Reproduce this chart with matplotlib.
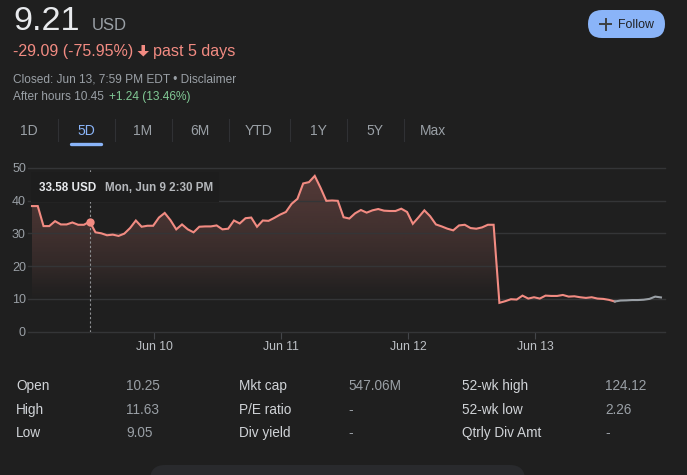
import numpy as np
import matplotlib
matplotlib.use("Agg")
import matplotlib.pyplot as plt
from matplotlib.patches import FancyBboxPatch, Rectangle, Polygon

plt.rcParams['font.family'] = ['Liberation Sans', 'DejaVu Sans']

# ---------- data ----------
market_prices = [38.3, 38.3, 32.2, 32.2, 33.7, 32.7, 32.7, 33.3, 32.6, 32.6, 33.58, 30.3, 30.0, 29.4, 29.6, 29.2,
                 29.9, 31.6, 33.9, 32.0, 32.3, 32.3, 34.8, 36.2, 34.0, 31.2, 32.7, 31.2, 30.3, 32.0, 32.1, 32.1,
                 32.4, 31.2, 31.4, 33.9, 33.0, 34.6, 34.8, 32.0, 33.9, 33.8, 34.7, 35.7, 36.5, 39.0, 40.5, 45.2,
                 45.6, 47.5, 43.9, 39.9, 40.0, 39.9, 34.9, 34.5, 36.1, 37.1, 36.3, 37.0, 37.4, 36.9, 36.8, 36.8,
                 37.5, 36.5, 32.9, 34.9, 37.0, 35.2, 32.7, 32.1, 31.4, 30.9, 32.4, 32.6, 31.6, 31.4, 31.8, 32.6,
                 32.6, 8.8, 9.3, 9.9, 9.8, 11.0, 10.1, 10.5, 10.1, 11.0, 10.9, 10.9, 11.2, 10.7, 10.8, 10.5,
                 10.3, 10.5, 10.1, 10.0, 9.7, 9.21]
after_hours_prices = [9.21, 9.5, 9.55, 9.65, 9.65, 9.75, 10.0, 10.7, 10.45]
y_ticks = [0, 10, 20, 30, 40, 50]
x_tick_labels = ["Jun 10", "Jun 11", "Jun 12", "Jun 13"]
x_tick_index = [21.2, 43.2, 65.2, 87.2]
hover_index = 10
hover_price = 33.58

periods = ["1D", "5D", "1M", "6M", "YTD", "1Y", "5Y", "Max"]
stats_col1 = [("Open", "10.25"), ("High", "11.63"), ("Low", "9.05")]
stats_col2 = [("Mkt cap", "547.06M"), ("P/E ratio", "-"), ("Div yield", "-")]
stats_col3 = [("52-wk high", "124.12"), ("52-wk low", "2.26"), ("Qtrly Div Amt", "-")]

# ---------- colours ----------
BG = "#1f1f1f"
RED = "#f28b82"
GREY = "#9aa0a6"
LIGHT = "#e8eaed"
BLUE = "#8ab4f8"
GREEN = "#81c995"
GRID = "#343537"

W, H = 687, 475
fig = plt.figure(figsize=(W / 100, H / 100), dpi=100, facecolor=BG)

# ---------- chart axes ----------
L, R, T, B = 28, 665, 167.7, 331.7
ax = fig.add_axes([L / W, 1 - B / H, (R - L) / W, (B - T) / H], facecolor=BG)
n_m = len(market_prices)
x_m = np.arange(n_m)
x_a = np.arange(n_m - 1, n_m - 1 + len(after_hours_prices))
xlim = (-0.69, 109.7)

# gradient fill below the price line
levels = np.linspace(0, 50, 200)
alpha = np.interp(levels, [0, 9, 14, 20, 30, 47, 50], [0, 0.0, 0.035, 0.095, 0.16, 0.25, 0.26])
rgba = np.zeros((200, 1, 4))
rgba[..., :3] = matplotlib.colors.to_rgb(RED)
rgba[..., 3] = alpha[:, None]
im = ax.imshow(rgba, origin='lower', extent=(x_m[0], x_m[-1], 0, 50), aspect='auto', zorder=1,
               interpolation='bilinear')
poly = Polygon(np.column_stack([np.r_[x_m[0], x_m, x_m[-1]], np.r_[0, market_prices, 0]]),
               transform=ax.transData, facecolor='none', edgecolor='none')
ax.add_patch(poly)
im.set_clip_path(poly)

ax.plot(x_m, market_prices, color=RED, lw=1.5, zorder=3, solid_joinstyle='miter')
ax.plot(x_a, after_hours_prices, color=GREY, lw=1.5, zorder=3)
ax.plot([hover_index, hover_index], [0, 50], color="#8f9194", lw=0.8, ls=(0, (2, 2)), zorder=2.6)
ax.plot([hover_index], [hover_price], 'o', color=RED, ms=6, mec='none', zorder=4)

ax.set_xlim(*xlim)
ax.set_ylim(0, 50)
ax.set_yticks(y_ticks)
ax.set_xticks(x_tick_index)
ax.set_xticklabels(x_tick_labels)
ax.tick_params(axis='y', length=0, pad=1.5, labelsize=9, labelcolor=GREY)
ax.tick_params(axis='x', length=5, width=0.8, color="#44464a", pad=1.5, labelsize=8.8, labelcolor="#bdc1c6")
ax.set_axisbelow(False)
ax.grid(axis='y', color=GRID, lw=1.0, zorder=2.5)
ax.grid(axis='x', visible=False)
for s in ax.spines.values():
    s.set_visible(False)
for gl in ax.get_ygridlines():
    gl.set_clip_on(False)

# ---------- overlay for page furniture (pixel coordinates) ----------
ov = fig.add_axes([0, 0, 1, 1], facecolor='none')
ov.set_xlim(0, W)
ov.set_ylim(H, 0)
ov.axis('off')


def txt(x, y, s, size, color, **kw):
    kw.setdefault('va', 'baseline')
    return ov.text(x, y, s, fontsize=size, color=color, **kw)


txt(13, 30, "9.21", 24.6, LIGHT)
txt(92, 30, "USD", 12, GREY)
txt(13, 56, "-29.09 (-75.95%)", 11.5, RED)
# down arrow
ov.add_patch(Polygon([(141.5, 45), (145, 45), (145, 51), (149, 51), (143.3, 56.5), (137.5, 51), (141.5, 51)],
                     fc=RED, ec='none'))
txt(153, 56, "past 5 days", 11.6, RED)
txt(13, 82, "Closed: Jun 13, 7:59 PM EDT \u2022 Disclaimer", 8.55, GREY)
txt(13, 100, "After hours 10.45", 8.55, GREY)
txt(109, 100, "+1.24 (13.46%)", 8.55, GREEN)

# Follow button
ov.add_patch(FancyBboxPatch((588 + 14, 10 + 14), 77 - 28, 0.01, boxstyle="round,pad=14,rounding_size=14",
                            fc=BLUE, ec='none'))
ov.plot([600, 611], [24, 24], color="#3c4043", lw=1.4)
ov.plot([605.5, 605.5], [18.5, 29.5], color="#3c4043", lw=1.4)
txt(618, 28, "Follow", 8.9, "#202124")

# period tabs
tab_x = [29, 86, 143, 200, 259, 318, 375, 433]
sep_x = [57.5, 114.5, 171.5, 228.5, 289.5, 346.5, 403.5]
for x, p in zip(tab_x, periods):
    txt(x, 135, p, 10, BLUE if p == "5D" else GREY, ha='center')
for x in sep_x:
    ov.plot([x, x], [119, 141], color="#303134", lw=0.8)
ov.plot([70.5, 101], [143.5, 143.5], color=BLUE, lw=2.4, solid_capstyle='round')

# tooltip
ov.add_patch(Rectangle((31, 172), 188, 30, fc="#1d1d1d", ec='none'))
txt(39, 191, "33.58 USD", 8.4, LIGHT, fontweight='bold')
txt(105, 191, "Mon, Jun 9 2:30 PM", 8.4, "#b5b8bc", fontweight='bold')

# stats table
rows_y = [390, 414, 437]
for (lx, vx), col in zip([(16, 126), (239, 348), (462, 605)], [stats_col1, stats_col2, stats_col3]):
    for y, (k, v) in zip(rows_y, col):
        txt(lx, y, k, 9.8, "#d0d3d7")
        txt(vx, y, v, 9.8, GREY)

# bottom pill
ov.add_patch(FancyBboxPatch((165, 480), 345, 10, boxstyle="round,pad=15,rounding_size=15",
                            fc="#292a2d", ec='none', clip_on=True))

fig.savefig("out.png", dpi=100, facecolor=BG)
